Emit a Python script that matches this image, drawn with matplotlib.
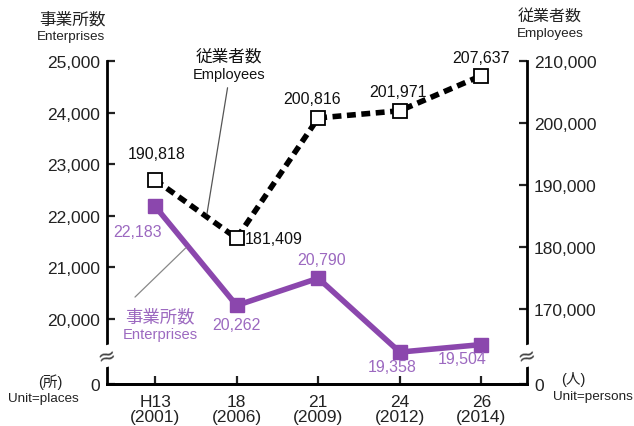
import numpy as np
import matplotlib
matplotlib.use('Agg')
from matplotlib import pyplot as plt

plt.rcParams['font.family'] = ['Liberation Sans', 'Noto Sans CJK JP', 'DejaVu Sans']

# data
years = ['H13\n(2001)', '18\n(2006)', '21\n(2009)', '24\n(2012)', '26\n(2014)']
employees = [190818, 181409, 200816, 201971, 207637]
enterprises = [22183, 20262, 20790, 19358, 19504]
left_ticks = [20000, 21000, 22000, 23000, 24000, 25000]
right_ticks = [170000, 180000, 190000, 200000, 210000]

purple = '#8b47ad'
purple_txt = '#9c69c0'
W, H = 634, 427

def px(x, y):
    return (x / W, 1 - y / H)

fig = plt.figure(figsize=(W / 100, H / 100), dpi=100)
ax = fig.add_axes([107 / W, 1 - 385 / H, (527 - 107) / W, (385 - 62) / H])
ax2 = ax.twinx()

x = np.arange(len(years))
# broken axes: the "0" sits just under the break
lo_left, lo_right = 18740, 157900
ax.set_xlim(-0.59, len(years) - 1 + 0.56)
ax.set_ylim(lo_left, 25000)
ax2.set_ylim(lo_right, 210000)

ax2.plot(x, employees, color='black', lw=4, ls=(0, (1.6, 1.0)), zorder=3,
         marker='s', ms=10, mfc='white', mec='black', mew=1.3)
ax.plot(x, enterprises, color=purple, lw=4, zorder=3,
        marker='s', ms=10, mfc=purple, mec=purple)

for a in (ax, ax2):
    a.spines['top'].set_visible(False)
    for s in a.spines.values():
        s.set_linewidth(2)
ax.spines['right'].set_visible(False)
ax2.spines['left'].set_visible(False)

ax.set_yticks([lo_left] + left_ticks)
ax.set_yticklabels(['0'] + [f'{v:,}' for v in left_ticks])
ax2.set_yticks([lo_right] + right_ticks)
ax2.set_yticklabels(['0'] + [f'{v:,}' for v in right_ticks])
ax.set_xticks(x)
ax.set_xticklabels(years, linespacing=1.05)
ax.tick_params(axis='y', direction='in', length=6, width=1.6, labelsize=12.5, pad=5, colors='#222222')
ax2.tick_params(axis='y', direction='in', length=6, width=1.6, labelsize=12.5, pad=5, colors='#222222')
ax.tick_params(axis='x', direction='in', length=6, width=1.6, labelsize=12.5, pad=7, colors='#222222')

# axis break marks
for xb in (107, 527):
    fig.text(*px(xb, 357), '≈', fontsize=16, ha='center', va='center',
             color='#444444', family='DejaVu Sans', rotation=15,
             bbox=dict(facecolor='white', edgecolor='none', pad=0.5))

# value labels (offsets in pixels, y up)
emp_off = [(2, 26, 'center'), (8, 0, 'left'), (-6, 19, 'center'), (-2, 19, 'center'), (0, 18, 'center')]
for xi, v, (dx, dy, ha) in zip(x, employees, emp_off):
    ax2.annotate(f'{v:,}', (xi, v), xytext=(dx, dy), textcoords='offset pixels',
                 ha=ha, va='center', fontsize=11.5, color='#111111')
ent_off = [(-18, -25), (0, -19), (3, 19), (-8, -14), (-19, -14)]
for xi, v, (dx, dy) in zip(x, enterprises, ent_off):
    ax.annotate(f'{v:,}', (xi, v), xytext=(dx, dy), textcoords='offset pixels',
                ha='center', va='center', fontsize=11.5, color=purple_txt)

# axis titles
fig.text(*px(72, 20), '事業所数', fontsize=12, ha='center', va='center', color='#222222')
fig.text(*px(71, 37), 'Enterprises', fontsize=9.7, ha='center', va='center', color='#222222')
fig.text(*px(550, 16), '従業者数', fontsize=11.5, ha='center', va='center', color='#222222')
fig.text(*px(550, 34), 'Employees', fontsize=9.7, ha='center', va='center', color='#222222')
fig.text(*px(50, 382), '(所)', fontsize=10.5, ha='center', va='center', color='#222222')
fig.text(*px(43, 399), 'Unit=places', fontsize=9.7, ha='center', va='center', color='#222222')
fig.text(*px(573, 380), '(人)', fontsize=10.5, ha='center', va='center', color='#222222')
fig.text(*px(593, 397), 'Unit=persons', fontsize=9.7, ha='center', va='center', color='#222222')

# series callouts with leader lines
t = 0.63
ex, ey = t, employees[0] + t * (employees[1] - employees[0])
ax2.annotate('', xy=(ex, ey), xytext=px(228, 86), textcoords='figure fraction',
             arrowprops=dict(arrowstyle='-', color='#555555', lw=0.9))
fig.text(*px(229, 57), '従業者数', fontsize=12, ha='center', va='center', color='#111111')
fig.text(*px(229, 75), 'Employees', fontsize=10.5, ha='center', va='center', color='#111111')

t = 0.4
nx, ny = t, enterprises[0] + t * (enterprises[1] - enterprises[0])
ax.annotate('', xy=(nx, ny), xytext=px(133, 300), textcoords='figure fraction',
            arrowprops=dict(arrowstyle='-', color='#888888', lw=0.9))
fig.text(*px(160, 317), '事業所数', fontsize=12.5, ha='center', va='center', color=purple_txt)
fig.text(*px(160, 335), 'Enterprises', fontsize=10.6, ha='center', va='center', color=purple_txt)

fig.savefig('out.png', dpi=100)
